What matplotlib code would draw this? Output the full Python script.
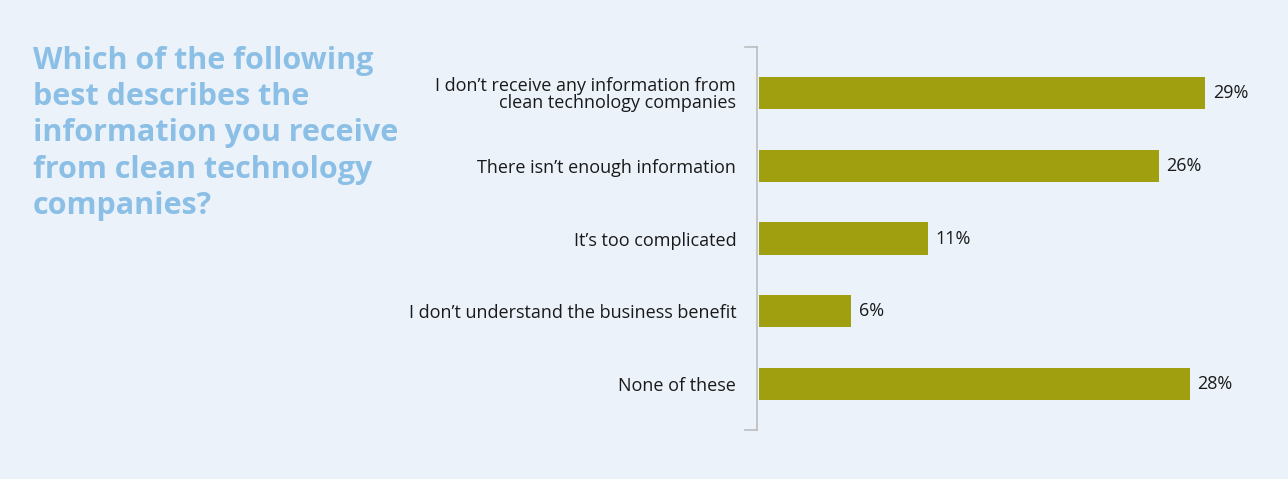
import matplotlib
matplotlib.use("Agg")
from matplotlib import pyplot as plt

# survey answers and shares (%)
answers = ["I don\u2019t receive any information from\nclean technology companies",
           "There isn\u2019t enough information",
           "It\u2019s too complicated",
           "I don\u2019t understand the business benefit",
           "None of these"]
shares = [29, 26, 11, 6, 28]
question = "Which of the following\nbest describes the\ninformation you receive\nfrom clean technology\ncompanies?"

bg = "#ebf2fa"
bar_col = "#a09f0f"
title_col = "#8bbfe6"

plt.rcParams['font.family'] = ['Open Sans', 'DejaVu Sans']

W, H = 1288, 479
f = plt.figure(figsize=(W/100, H/100), dpi=100, facecolor=bg)
ax = f.add_axes([757/W, 49/H, (W-757)/W, (432-49)/H])
ax.set_facecolor(bg)

ypos = list(range(len(answers)))
ax.barh(ypos, shares, height=0.44, color=bar_col, left=0)
ax.set_xlim(-0.13, (W-757)/15.38 - 0.13)
ax.set_ylim(4.63, -0.63)

for y, v in zip(ypos, shares):
    ax.text(v + 0.5, y, f"{v}%", va='center', ha='left', fontsize=13, color='#1a1a1a')

for s in ['top', 'right', 'bottom']:
    ax.spines[s].set_visible(False)
ax.spines['left'].set_color('#bcbcbc')
ax.spines['left'].set_linewidth(1.2)
ax.set_xticks([])
ax.set_yticks(ypos)
ax.set_yticklabels(answers, fontsize=13, color='#1a1a1a', linespacing=0.95)
ax.tick_params(axis='y', length=0, pad=15)

# little end caps on the axis line
for yy in (0, 1):
    ax.plot([-12/531, 0], [yy, yy], transform=ax.transAxes, color='#bcbcbc',
            lw=1.2, clip_on=False)

f.text(33/W, 1 - 46/H, question, ha='left', va='top', fontsize=22,
       fontweight='bold', color=title_col, linespacing=1.27)

f.savefig("out.png", dpi=100, facecolor=bg)
